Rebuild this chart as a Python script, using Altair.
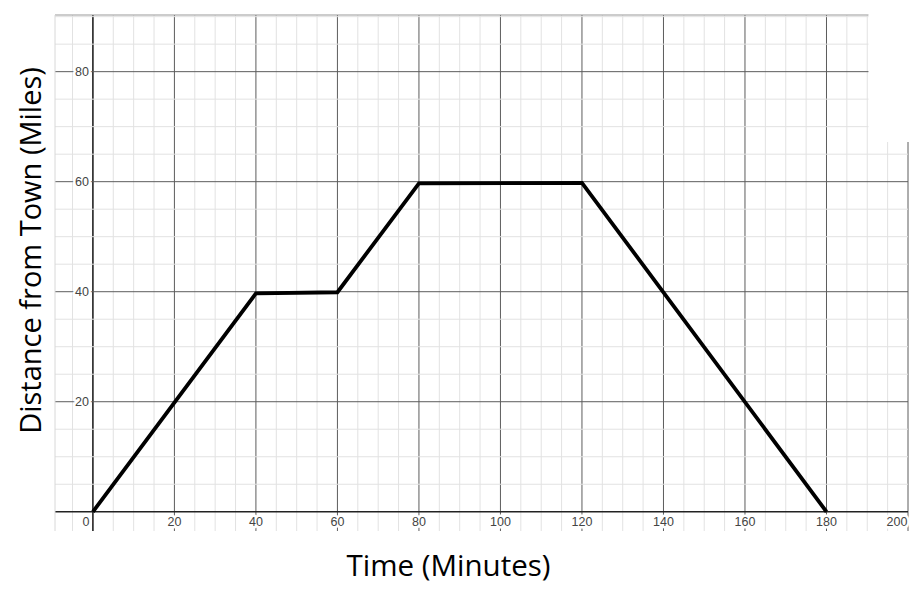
import altair as alt
import pandas as pd

# distance-time graph (trip from town and back)
TIME = [0, 40, 60, 80, 120, 180]
DIST = [0, 39.7, 39.9, 59.7, 59.8, 0]

X_LABELS = [0, 20, 40, 60, 80, 100, 120, 140, 160, 180, 200]
Y_LABELS = [20, 40, 60, 80]
X_GRID = [-5, 0, 5, 10, 15, 20, 25, 30, 35, 40, 45, 50, 55, 60, 65, 70, 75, 80, 85, 90,
          95, 100, 105, 110, 115, 120, 125, 130, 135, 140, 145, 150, 155, 160, 165, 170,
          175, 180, 185, 190, 195, 200]
Y_GRID = [0, 5, 10, 15, 20, 25, 30, 35, 40, 45, 50, 55, 60, 65, 70, 75, 80, 85, 90]

X_MIN, X_MAX = -9.3, 200
Y_MIN, Y_MAX = -3.5, 90.3

# grid styling: zero axis dark, every 20 mid grey, every 5 light
GRID_COLOR_EXPR = "datum.v === 0 ? '#222222' : (datum.v % 20 === 0 ? '#5c5c5c' : '#e2e2e2')"
GRID_WIDTH_EXPR = "datum.v === 0 ? 1.6 : 1"

x_scale = alt.Scale(domain=[X_MIN, X_MAX], nice=False, zero=False)
y_scale = alt.Scale(domain=[Y_MIN, Y_MAX], nice=False, zero=False)

x_axis = alt.Axis(
    labels=False, ticks=False, domain=False, grid=False,
    title="Time (Minutes)", titleFont="Open Sans", titleFontSize=29.5,
    titleFontWeight="normal", titleColor="black", titlePadding=21, titleX=393,
)
y_axis = alt.Axis(
    labels=False, ticks=False, domain=False, grid=False,
    title="Distance from Town (Miles)", titleFont="Open Sans", titleFontSize=29,
    titleFontWeight="normal", titleColor="black", titlePadding=9, titleY=235,
)

df_line = pd.DataFrame({"t": TIME, "d": DIST})
df_xlab = pd.DataFrame({"t": X_LABELS, "d": [0] * len(X_LABELS),
                        "label": [str(v) for v in X_LABELS]})
df_ylab = pd.DataFrame({"t": [0] * len(Y_LABELS), "d": Y_LABELS,
                        "label": [str(v) for v in Y_LABELS]})
df_xgrid = pd.DataFrame({"t": X_GRID, "v": X_GRID})
df_ygrid = pd.DataFrame({"d": Y_GRID, "v": Y_GRID})
one = pd.DataFrame({"a": [0]})

X = lambda field="t": alt.X(f"{field}:Q", scale=x_scale, axis=x_axis)
Y = lambda: alt.Y("d:Q", scale=y_scale, axis=y_axis)

# grid lines: light ones first, darker ones drawn on top
def grid_layer(df, channel):
    enc = {channel: X() if channel == "x" else Y()}
    return alt.Chart(df).transform_calculate(
        c=GRID_COLOR_EXPR, w=GRID_WIDTH_EXPR,
        o="datum.v === 0 ? 2 : (datum.v % 20 === 0 ? 1 : 0)",
    ).mark_rule().encode(
        color=alt.Color("c:N", scale=None),
        strokeWidth=alt.StrokeWidth("w:Q", scale=None),
        order=alt.Order("o:Q"),
        **enc,
    )

vgrid = grid_layer(df_xgrid, "x")
hgrid = grid_layer(df_ygrid, "y")

# frame lines (top + left only, like the source crop)
top_rule = alt.Chart(one).mark_rule(color="#9a9a9a", strokeWidth=1.2).encode(
    x=alt.X(datum=X_MIN, type="quantitative", scale=x_scale, axis=x_axis),
    x2=alt.X2(datum=X_MAX),
    y=alt.Y(datum=Y_MAX, type="quantitative", scale=y_scale, axis=y_axis),
)
left_rule = alt.Chart(one).mark_rule(color="#d8d8d8").encode(
    x=alt.X(datum=X_MIN, type="quantitative", scale=x_scale, axis=x_axis),
    y=alt.Y(datum=Y_MIN, type="quantitative", scale=y_scale, axis=y_axis),
    y2=alt.Y2(datum=Y_MAX),
)

# the cropped top-right corner of the source image
corner = alt.Chart(one).mark_rect(color="white").encode(
    x=alt.X(datum=190.3, type="quantitative", scale=x_scale, axis=x_axis),
    x2=alt.X2(datum=X_MAX + 5),
    y=alt.Y(datum=67.2, type="quantitative", scale=y_scale, axis=y_axis),
    y2=alt.Y2(datum=Y_MAX + 5),
)

line = alt.Chart(df_line).mark_line(color="black", strokeWidth=3.8).encode(
    x=X(), y=Y()
)

# tick labels with a white halo; "0" sits left of the origin, "200" nudged inward
xlab_base = alt.Chart(df_xlab).transform_calculate(
    tx="datum.t === 0 ? datum.t - 1.7 : (datum.t === 200 ? datum.t - 2.7 : datum.t)"
).encode(x=X("tx"), y=Y(), text="label:N")
xlab_halo = xlab_base.mark_text(
    dy=10, font="Liberation Sans", fontSize=12.5, color="white",
    stroke="white", strokeWidth=5, strokeJoin="round"
)
xlab = xlab_base.mark_text(dy=10, font="Liberation Sans", fontSize=12.5, color="#444444")

ylab_base = alt.Chart(df_ylab).encode(x=X(), y=Y(), text="label:N")
ylab_halo = ylab_base.mark_text(
    dx=-4, align="right", font="Liberation Sans", fontSize=12.5, color="white",
    stroke="white", strokeWidth=5, strokeJoin="round"
)
ylab = ylab_base.mark_text(dx=-4, align="right", font="Liberation Sans",
                           fontSize=12.5, color="#444444")

chart = alt.layer(
    vgrid, hgrid, top_rule, left_rule, corner,
    xlab_halo, ylab_halo, xlab, ylab, line
).properties(
    width=853,
    height=516,
    autosize=alt.AutoSizeParams(type="none"),
    padding={"left": 47, "top": 7, "right": 2, "bottom": 57},
    background="white",
).configure_view(strokeWidth=0)

chart.save("out.html", embed_options={"renderer": "svg", "actions": False})
